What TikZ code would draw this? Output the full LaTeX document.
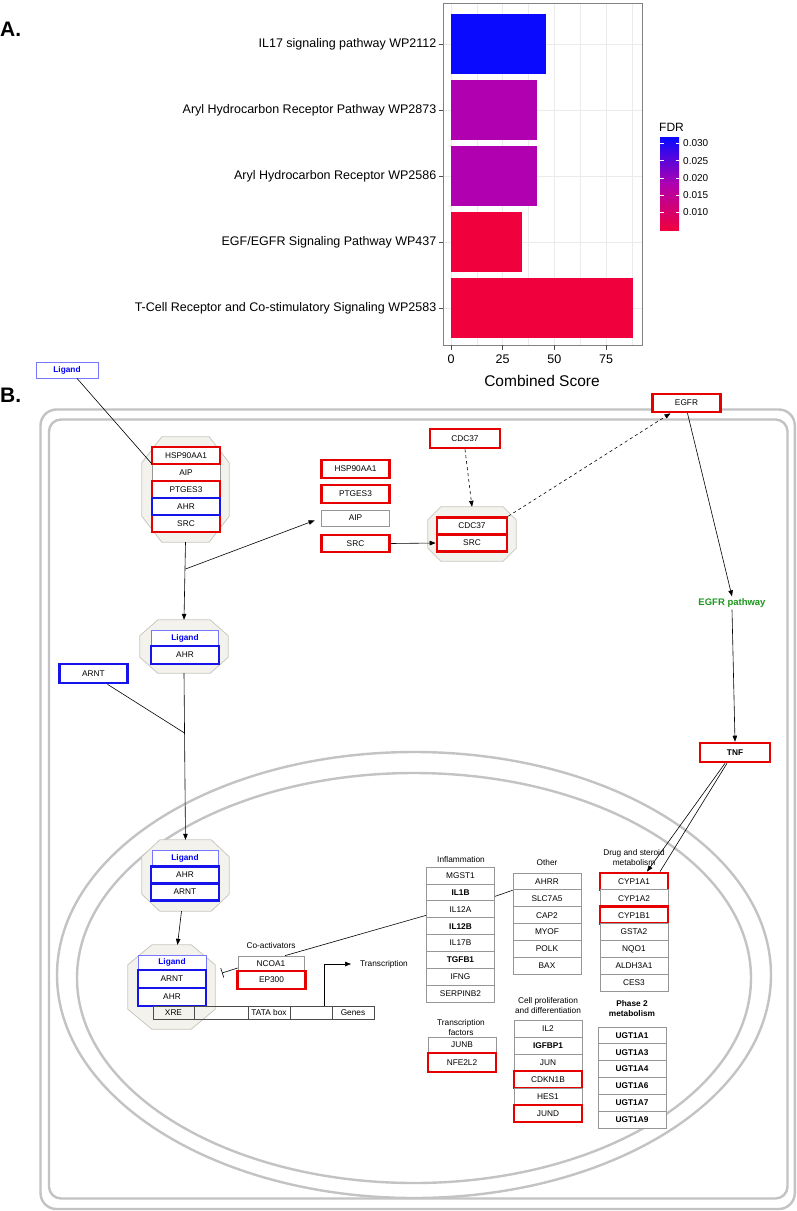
\documentclass[tikz,border=0pt]{standalone}
\usepackage{fontspec}
\setmainfont{Liberation Sans}
\usetikzlibrary{arrows.meta}

\definecolor{hitred}{RGB}{230,0,0}
\definecolor{hitblue}{RGB}{20,20,235}
\definecolor{ligblue}{RGB}{120,120,255}
\definecolor{boxgray}{RGB}{150,150,150}
\definecolor{memgray}{RGB}{195,195,195}
\definecolor{octfill}{RGB}{243,242,236}
\definecolor{octline}{RGB}{200,200,192}
\definecolor{pathgreen}{RGB}{30,150,30}
\definecolor{fdrhigh}{RGB}{10,10,255}
\definecolor{fdrmid}{RGB}{176,0,176}
\definecolor{fdrlow}{RGB}{240,0,60}
\definecolor{gridgray}{RGB}{235,235,235}
\definecolor{framegray}{RGB}{130,130,130}

\newcommand{\genefont}{\fontsize{8.3}{10}\selectfont}

\begin{document}
\begin{tikzpicture}[x=1pt, y=-1pt,
    gene/.style={rectangle, draw=boxgray, line width=0.7pt, fill=white, minimum width=68pt, minimum height=17pt, inner sep=0pt, font=\genefont},
    boldgene/.style={gene, font=\genefont\bfseries},
    redgene/.style={gene, draw=hitred, line width=2.6pt},
    bluegene/.style={gene, draw=hitblue, line width=2.6pt},
    ligand/.style={gene, draw=ligblue, text=blue, font=\genefont\bfseries, minimum height=16pt},
    complex/.style={rectangle, inner sep=0pt},
    octagon/.style={draw=octline, fill=octfill, line width=0.8pt},
    header/.style={font=\genefont, align=center, inner sep=0pt},
    membrane/.style={draw=memgray, line width=2.4pt},
    arrow/.style={-{Triangle[length=6pt,width=4.5pt]}, line width=0.6pt},
    link/.style={line width=0.6pt},
    inhibit/.style={-{Bar[width=10pt]}, line width=0.6pt},
    dna/.style={rectangle, draw=black!70, line width=0.6pt, minimum height=13pt, inner sep=0pt, font=\genefont},
    catlabel/.style={anchor=east, font=\fontsize{12.5}{14}\selectfont, inner sep=0pt},
    ticklabel/.style={font=\fontsize{12.5}{14}\selectfont, inner sep=0pt}
]
    \fill[white] (0,0) rectangle (797,1211);
    \useasboundingbox (0,0) rectangle (797,1211);

    % Panel A: enrichment bars
    \node[font=\fontsize{21}{24}\selectfont\bfseries, anchor=west, inner sep=0pt] (panelA) at (0,29) {A.};
    \foreach \v in {12.5,37.5,62.5,87.5}
        \draw[gridgray, line width=0.5pt] (451+2.067*\v,3.5) -- (451+2.067*\v,345);
    \foreach \v in {0,25,50,75}
        \draw[gridgray, line width=1pt] (451+2.067*\v,3.5) -- (451+2.067*\v,345);
    \foreach \y in {44,110,176,242,308}
        \draw[gridgray, line width=1pt] (443,\y) -- (642,\y);
    \foreach \y/\v/\c in {44/45.8/fdrhigh, 110/41.4/fdrmid, 176/41.4/fdrmid, 242/34.5/fdrlow, 308/88.2/fdrlow}
        \fill[\c] (451,\y-29.7) rectangle (451+2.067*\v,\y+29.7);
    \draw[framegray, line width=0.8pt] (443,3.5) rectangle (642,345);
    \foreach \t [count=\i from 0] in {IL17 signaling pathway WP2112, Aryl Hydrocarbon Receptor Pathway WP2873, Aryl Hydrocarbon Receptor WP2586, EGF/EGFR Signaling Pathway WP437, T-Cell Receptor and Co-stimulatory Signaling WP2583} {
        \draw[black!70, line width=0.6pt] (438.5,44+66*\i) -- (443,44+66*\i);
        \node[catlabel] (cat\i) at (436.5,44+66*\i) {\t};
    }
    \foreach \v in {0,25,50,75} {
        \draw[black!70, line width=0.6pt] (451+2.067*\v,345) -- (451+2.067*\v,349.5);
        \node[ticklabel] (tick\v) at (451+2.067*\v,359) {\v};
    }
    \node[font=\fontsize{15.5}{18}\selectfont, inner sep=0pt] (xtitle) at (542,381) {Combined Score};

    % FDR legend
    \node[font=\fontsize{12}{14}\selectfont, anchor=west, inner sep=0pt] (fdrtitle) at (659,127) {FDR};
    \shade[top color=fdrhigh, bottom color=fdrlow, middle color=fdrmid] (660,137.3) rectangle (679,230.7);
    \foreach \f/\y [count=\i] in {0.030/143.3, 0.025/160.6, 0.020/177.9, 0.015/195.1, 0.010/212.4} {
        \draw[white, line width=0.6pt] (660,\y) -- (663.5,\y) (675.5,\y) -- (679,\y);
        \node[font=\fontsize{10}{12}\selectfont, anchor=west, inner sep=0pt] (fdr\i) at (683,\y) {\f};
    }

    % Panel B: membranes
    \node[font=\fontsize{21}{24}\selectfont\bfseries, anchor=west, inner sep=0pt] (panelB) at (0,395) {B.};
    \draw[membrane, rounded corners=16pt] (40.5,409.5) rectangle (794.8,1209);
    \draw[membrane, rounded corners=12pt] (49,419.5) rectangle (787.5,1198.5);
    \draw[membrane] (414,975) ellipse [x radius=357, y radius=223];
    \draw[membrane] (414,978) ellipse [x radius=337, y radius=205];

    % Complexes
    \foreach \n/\cx/\cy/\w/\h/\a/\b in {hspcx/185.5/489.5/87/105/20/26, ligcx/184/646.5/88/53/18/16,
        cdccx/472/534/88/54/13/13, arntcx/185.5/875.5/87/71/18/17, xrecx/171.5/987/87/84/24/20} {
        \node[complex, minimum width=\w pt, minimum height=\h pt] (\n) at (\cx,\cy) {};
        \draw[octagon] ([xshift=\a pt]\n.north west) -- ([xshift=-\a pt]\n.north east)
            -- ([yshift=-\b pt]\n.north east) -- ([yshift=\b pt]\n.south east)
            -- ([xshift=-\a pt]\n.south east) -- ([xshift=\a pt]\n.south west)
            -- ([yshift=\b pt]\n.south west) -- ([yshift=-\b pt]\n.north west) -- cycle;
    }

    % Cytoplasm
    \node[ligand, minimum width=62pt] (ligand) at (67,370) {Ligand};
    \node[gene] (hspaip) at (186,472.5) {AIP};
    \node[redgene] (hsphsp) at (186,455.5) {HSP90AA1};
    \node[redgene] (hspptg) at (186,489.5) {PTGES3};
    \node[redgene] (hspsrc) at (186,523.5) {SRC};
    \node[bluegene] (hspahr) at (186,506.5) {AHR};

    \node[redgene, minimum height=18pt] (hsp) at (355.5,469) {HSP90AA1};
    \node[redgene, minimum height=18pt] (ptges) at (355.5,494) {PTGES3};
    \node[gene, minimum height=16pt] (aip) at (355.5,518) {AIP};
    \node[redgene] (src) at (355.5,543.5) {SRC};

    \node[redgene, minimum width=70pt, minimum height=19pt] (cdc) at (465,438.5) {CDC37};
    \node[redgene, minimum width=70pt] (cdccdc) at (472,526) {CDC37};
    \node[redgene, minimum width=70pt] (cdcsrc) at (472,543) {SRC};
    \node[redgene, minimum height=18pt] (egfr) at (686.5,403) {EGFR};
    \node[font=\fontsize{9.5}{11}\selectfont\bfseries, text=pathgreen, inner sep=2pt] (egfrpw) at (732,603) {EGFR pathway};
    \node[redgene, minimum width=70pt, minimum height=19pt, font=\genefont\bfseries] (tnf) at (735,752.5) {TNF};

    \node[ligand, minimum width=67pt] (ligcxlig) at (185,638) {Ligand};
    \node[bluegene, minimum height=18pt] (ligcxahr) at (185,655) {AHR};
    \node[bluegene, minimum height=19pt] (arnt) at (93.5,673.5) {ARNT};

    % Nucleus
    \node[ligand, minimum width=66pt] (arntcxlig) at (185,858) {Ligand};
    \node[bluegene] (arntcxahr) at (185,875) {AHR};
    \node[bluegene] (arntcxarnt) at (185,892) {ARNT};

    \node[ligand, minimum width=68pt, minimum height=15pt] (xrecxlig) at (172,962.5) {Ligand};
    \node[bluegene, minimum height=18pt] (xrecxarnt) at (172,979) {ARNT};
    \node[bluegene, minimum height=18pt] (xrecxahr) at (172,997) {AHR};

    \node[dna, minimum width=41pt] (xre) at (173.5,1012.5) {XRE};
    \node[dna, minimum width=54pt] (dnagap) at (221,1012.5) {};
    \node[dna, minimum width=42pt] (tata) at (269,1012.5) {TATA box};
    \node[dna, minimum width=42pt] (dnaspace) at (311,1012.5) {};
    \node[dna, minimum width=42pt] (genes) at (353,1012.5) {Genes};
    \coordinate (tss) at (324,1006);

    \node[header] (coact) at (271,946) {Co-activators};
    \node[gene, minimum width=66pt, minimum height=15pt] (ncoa) at (271,963.5) {NCOA1};
    \node[redgene, minimum height=18pt] (ep300) at (271.5,980) {EP300};
    \node[header, anchor=west] (transcr) at (360,964) {Transcription};

    % Target gene groups
    \node[header] (inflhead) at (461,860) {Inflammation};
    \foreach \g/\s [count=\i from 0] in {MGST1/gene, IL1B/boldgene, IL12A/gene, IL12B/boldgene, IL17B/gene, TGFB1/boldgene, IFNG/gene, SERPINB2/gene}
        \node[\s] (infl\i) at (460.5,875.5+16.9*\i) {\g};

    \node[header] (othhead) at (547,863) {Other};
    \foreach \g [count=\i from 0] in {AHRR, SLC7A5, CAP2, MYOF, POLK, BAX}
        \node[gene] (oth\i) at (547,881.4+16.9*\i) {\g};

    \node[header] (drughead) at (634,858) {Drug and steroid\\metabolism};
    \foreach \g/\s [count=\i from 0] in {CYP1A1/redgene, CYP1A2/gene, CYP1B1/redgene, GSTA2/gene, NQO1/gene, ALDH3A1/gene, CES3/gene}
        \node[\s] (drug\i) at (634,881.4+16.9*\i) {\g};

    \node[header] (tfhead) at (461,1027.5) {Transcription\\factors};
    \node[gene, minimum height=16pt] (junb) at (462,1045) {JUNB};
    \node[redgene, minimum height=19pt] (nfe) at (462,1062.5) {NFE2L2};

    \node[header] (prolhead) at (548,1006) {Cell proliferation\\and differentiation};
    \foreach \g/\s [count=\i from 0] in {IL2/gene, IGFBP1/boldgene, JUN/gene, CDKN1B/redgene, HES1/gene, JUND/redgene}
        \node[\s] (prol\i) at (548,1028.5+17*\i) {\g};

    \node[header, font=\genefont\bfseries] (phasehead) at (632,1009) {Phase 2\\metabolism};
    \foreach \g [count=\i from 0] in {UGT1A1, UGT1A3, UGT1A4, UGT1A6, UGT1A7, UGT1A9}
        \node[boldgene] (ugt\i) at (632,1035.4+16.8*\i) {\g};

    % Connectors
    \coordinate (split) at (185.5,569);
    \coordinate (join) at (184.5,733);
    \coordinate (inhend) at (222,973);
    \draw[link] ([xshift=10pt]ligand.south) -- (hspaip.north west);
    \draw[arrow] (hspcx.south) -- (ligcx.north);
    \draw[arrow, shorten >=7pt] (split) -- (aip.west);
    \draw[arrow] (src.east) -- (cdcsrc.west);
    \draw[arrow, dashed] (cdc.south) -- (cdccx.north);
    \draw[arrow, dashed] (cdccdc.north east) -- ([xshift=-16pt]egfr.south);
    \draw[arrow] ([xshift=1pt]egfr.south) -- (egfrpw.north);
    \draw[arrow] (egfrpw.south) -- (tnf.north);
    \draw[arrow] ([xshift=-10pt]tnf.south) -- ([xshift=13pt]drug0.north);
    \draw[link] ([xshift=-8pt]tnf.south) -- ([xshift=26pt]drug0.north);
    \draw[link] ([xshift=14pt]arnt.south) -- (join);
    \draw[arrow] (ligcx.south) -- (arntcx.north);
    \draw[arrow] ([xshift=-4pt]arntcx.south) -- ([xshift=6pt]xrecx.north);
    \draw[inhibit] ([yshift=-4.5pt]ncoa.west) -- (inhend);
    \draw[link] ([yshift=-6pt]infl2.west) -- ([xshift=14pt]ncoa.north);
    \draw[link] ([yshift=-4pt]infl1.east) -- (oth0.south west);
    \draw[arrow] (tss) |- ([xshift=-9pt]transcr.west);
\end{tikzpicture}
\end{document}
